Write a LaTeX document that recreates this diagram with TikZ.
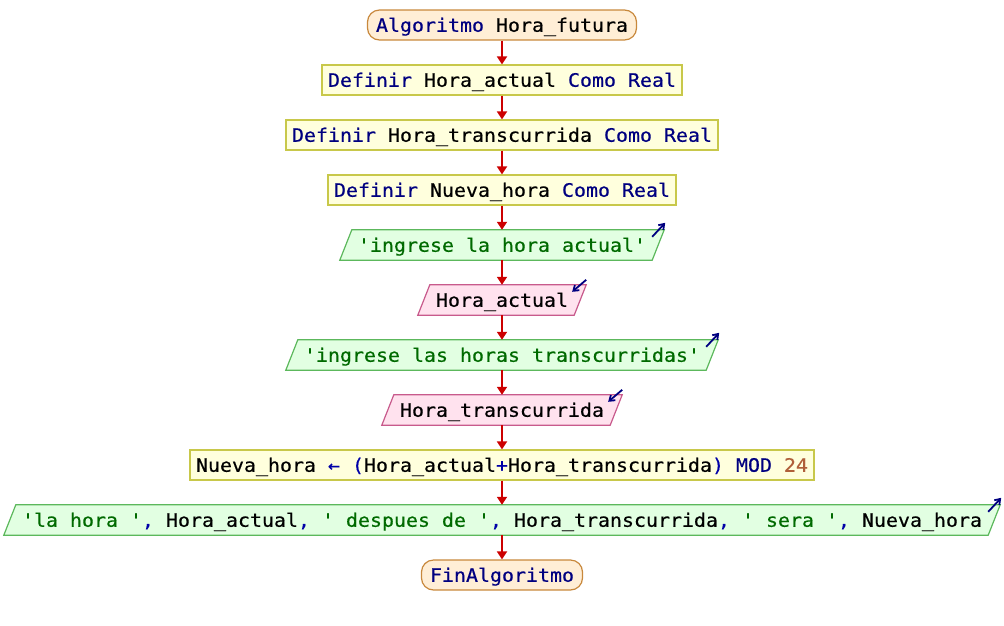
\documentclass[tikz,border=0pt]{standalone}
\usepackage{fontspec}
\setmonofont{DejaVu Sans Mono}[FakeStretch=1.0774,FakeBold=0.5]
\usetikzlibrary{arrows.meta,backgrounds}

% syntax colours
\definecolor{kwcol}{HTML}{000080}
\definecolor{strcol}{HTML}{006A00}
\definecolor{numcol}{HTML}{B0603A}
\definecolor{opcol}{HTML}{0000A8}
% shape colours
\definecolor{termfill}{HTML}{FFEED6}
\definecolor{termdraw}{HTML}{C8883C}
\definecolor{procfill}{HTML}{FFFFDD}
\definecolor{procdraw}{HTML}{C8C84A}
\definecolor{outfill}{HTML}{E2FFE2}
\definecolor{outdraw}{HTML}{5CB85C}
\definecolor{infill}{HTML}{FFE2EE}
\definecolor{indraw}{HTML}{C85A8C}
\definecolor{flowcol}{HTML}{CC0000}

\newcommand{\kwd}[1]{\textcolor{kwcol}{#1}}
\newcommand{\strg}[1]{\textcolor{strcol}{#1}}
\newcommand{\numr}[1]{\textcolor{numcol}{#1}}
\newcommand{\oper}[1]{\textcolor{opcol}{#1}}

\begin{document}
\begin{tikzpicture}[x=1pt,y=-1pt,
  every node/.style={font=\ttfamily\fontsize{18.5pt}{22pt}\selectfont\frenchspacing,
    text height=13.5pt, text depth=0pt, inner ysep=0pt, minimum height=30pt},
  terminal/.style={draw=termdraw, fill=termfill, line width=1.2pt,
    rounded corners=12pt, inner xsep=8.5pt},
  process/.style={draw=procdraw, fill=procfill, line width=1.2pt, inner xsep=6pt},
  iobody/.style={inner xsep=12pt},
  outshape/.style={draw=outdraw, fill=outfill, line width=1.2pt},
  inshape/.style={draw=indraw, fill=infill, line width=1.2pt},
  flow/.style={draw=flowcol, line width=1.8pt, -{Triangle[width=10pt,length=8pt]}},
  ioarrow/.style={draw=kwcol, line width=1.8pt, -{Straight Barb[angle=70:6pt]}},
]
\useasboundingbox (0,0) rectangle (1004,625);

% statements, top to bottom
\node[terminal] (start) at (502,25) {\kwd{Algoritmo} Hora\_futura};
\node[process] (d1) at (502,80) {\kwd{Definir} Hora\_actual \kwd{Como Real}};
\node[process] (d2) at (502,135) {\kwd{Definir} Hora\_transcurrida \kwd{Como Real}};
\node[process] (d3) at (502,190) {\kwd{Definir} Nueva\_hora \kwd{Como Real}};
\node[iobody] (o1) at (502,245) {\strg{'ingrese la hora actual'}};
\node[iobody] (i1) at (502,300) {Hora\_actual};
\node[iobody] (o2) at (502,355) {\strg{'ingrese las horas transcurridas'}};
\node[iobody] (i2) at (502,410) {Hora\_transcurrida};
\node[process] (asg) at (502,465) {Nueva\_hora \oper{←} \oper{(}Hora\_actual\oper{+}Hora\_transcurrida\oper{)} \kwd{MOD} \numr{24}};
\node[iobody] (o3) at (502,520) {\strg{'la hora '}\oper{,} Hora\_actual\oper{,} \strg{' despues de '}\oper{,} Hora\_transcurrida\oper{,} \strg{' sera '}\oper{,} Nueva\_hora};
\node[terminal] (stop) at (502,575) {\kwd{FinAlgoritmo}};

% parallelogram outlines for input/output statements
\begin{scope}[on background layer]
  \foreach \n/\s in {o1/outshape, o2/outshape, o3/outshape, i1/inshape, i2/inshape}{
    \path[\s] ([shift={(6,0)}]\n.north west) -- ([shift={(6,0)}]\n.north east)
      -- ([shift={(-6,0)}]\n.south east) -- ([shift={(-6,0)}]\n.south west) -- cycle;
  }
\end{scope}

% output markers (arrow leaving the shape)
\foreach \n in {o1,o2,o3}{
  \draw[ioarrow] ([shift={(-6,7)}]\n.north east) -- ([shift={(7,-7)}]\n.north east);
}
% input markers (arrow entering the shape)
\foreach \n in {i1,i2}{
  \draw[ioarrow] ([shift={(6,-5)}]\n.north east) -- ([shift={(-8,7)}]\n.north east);
}

% control flow
\draw[flow] (start.south) -- (d1.north);
\draw[flow] (d1.south) -- (d2.north);
\draw[flow] (d2.south) -- (d3.north);
\draw[flow] (d3.south) -- (o1.north);
\draw[flow] (o1.south) -- (i1.north);
\draw[flow] (i1.south) -- (o2.north);
\draw[flow] (o2.south) -- (i2.north);
\draw[flow] (i2.south) -- (asg.north);
\draw[flow] (asg.south) -- (o3.north);
\draw[flow] (o3.south) -- (stop.north);
\end{tikzpicture}
\end{document}
